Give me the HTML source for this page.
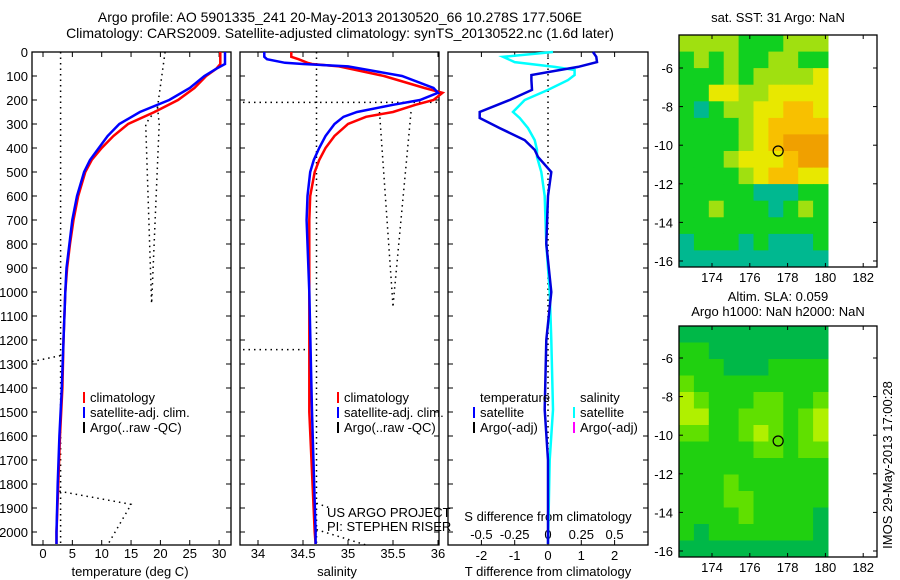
<!DOCTYPE html>
<html><head><meta charset="utf-8"><style>
body{margin:0;background:#fff;}
svg{display:block;font-family:"Liberation Sans",sans-serif;}
</style></head><body>
<svg id="fig" width="900" height="580" viewBox="0 0 900 580"></svg>
<script>
// ---- data ----
const depths = [0,20,50,70,100,150,200,250,300,350,400,450,500,600,700,800,900,1000,1200,1400,1600,1800,2000,2050];
const tempSat = [31,31,31,29.5,27.5,25,21.5,16.5,13,11,9.5,8,7,5.8,5,4.5,4,3.8,3.5,3.2,2.8,2.5,2.3,2.3];
const tempClim = [30.2,30.2,30.2,29.5,27.8,25.8,23,19,14.5,12,10,8.3,7.2,6,5.2,4.6,4.1,3.8,3.5,3.3,2.9,2.6,2.3,2.3];
const salDepths = [0,20,30,45,50,60,100,150,170,200,220,250,270,300,350,400,450,500,600,700,800,1000,1500,2000,2050];
const salSat = [34.07,34.07,34.1,34.3,34.5,35.0,35.6,35.95,36.0,35.8,35.5,35.1,34.95,34.85,34.75,34.68,34.62,34.58,34.55,34.54,34.55,34.57,34.6,34.64,34.64];
const salClim = [34.37,34.37,34.45,34.55,34.6,34.9,35.4,35.85,36.05,35.95,35.75,35.5,35.2,35.0,34.85,34.75,34.68,34.63,34.58,34.57,34.57,34.57,34.57,34.63,34.64];
const diffDepths = [0,20,42,62,75,96,117,158,200,250,275,317,367,408,437,500,600,800,1000,1200,1490,1700,2050];
const tDiff = [1.35,1.45,1.47,0.9,0.36,-0.5,-0.5,-0.48,-1.15,-2.05,-2.05,-1.45,-0.7,-0.4,-0.3,0.1,0.0,-0.05,0.1,-0.05,-0.1,0,0];
const sDiffT = [0.15,-1.35,-1.0,0.2,0.8,0.8,0.6,0.0,-0.7,-1.05,-0.85,-0.6,-0.4,-0.33,-0.33,-0.2,-0.1,-0.05,0.05,0.1,0.15,0.05,0];
const tempTicks = [0,5,10,15,20,25,30];
const salTicks = [34,34.5,35,35.5,36];
const salTickLabels = ["34","34.5","35","35.5","36"];
const diffTicks = [-2,-1,0,1,2];
const sDiffLabels = ["-0.5","-0.25","0","0.25","0.5"];
const depthTicks = [0,100,200,300,400,500,600,700,800,900,1000,1100,1200,1300,1400,1500,1600,1700,1800,1900,2000];
const lonTicks = [174,176,178,180,182];
const latTicks = [-6,-8,-10,-12,-14,-16];
// SST coarse grid (0 teal,1 green,2 yellow-green,3 yellow,4 orange-yellow,5 orange)
const sstGrid = [
[2,2,2,2,1,1,1,2,2,2],[1,2,1,2,1,1,2,2,1,1],[1,1,1,2,1,2,2,2,2,3],[1,1,3,3,2,2,3,3,3,3],
[1,0,1,2,2,3,3,4,4,3],[1,1,1,1,2,3,4,4,4,4],[1,1,1,1,2,3,4,5,5,5],[1,1,1,2,3,3,3,4,5,5],
[1,1,1,1,2,3,4,4,3,3],[1,1,1,1,1,0,0,0,1,1],[1,1,2,1,1,1,0,1,2,1],[1,1,1,1,1,1,1,1,1,1],
[0,1,1,1,0,1,0,0,0,1],[0,0,0,0,0,0,0,0,0,0]];
const slaGrid = [
[0,0,0,0,0,0,0,0,0,0],[1,1,0,0,0,0,0,0,0,0],[1,1,1,0,0,0,1,1,1,1],[2,1,1,1,1,1,1,1,1,1],
[3,2,1,1,1,2,2,1,1,2],[3,3,1,1,2,2,2,1,2,3],[2,2,1,1,2,3,2,1,2,3],[1,1,1,1,1,2,2,1,2,2],
[1,1,1,1,1,1,1,1,1,1],[1,1,1,2,1,1,1,1,1,1],[1,1,1,2,2,1,1,1,1,1],[1,1,1,1,2,1,1,1,1,0],
[1,0,1,1,1,1,1,1,1,0],[0,0,0,0,0,0,0,0,0,0]];
const argoLon = 177.5, argoLat = -10.3;

// ---- helpers ----
const NS="http://www.w3.org/2000/svg";
const svg=document.getElementById('fig');
function mk(tag,attrs,parent){const e=document.createElementNS(NS,tag);for(const k in attrs)e.setAttribute(k,attrs[k]);(parent||svg).appendChild(e);return e;}
function txt(x,y,s,anchor,size,parent){const t=mk('text',{x:x,y:y,'text-anchor':anchor||'middle','font-size':size||13,fill:'#000'},parent);t.textContent=s;return t;}
const yD=d=>52+d*0.24;
const P1={x0:32,x1:231}, P2={x0:240,x1:439}, P3={x0:448,x1:648};
const xT=v=>43+v*5.87;
const xS=v=>258+(v-34)*90;
const xDf=v=>548+v*33.3;
function line(xs,ys,xf,color,w,name){
  const pts=xs.map((v,i)=>xf(v).toFixed(1)+','+yD(ys[i]).toFixed(1)).join(' ');
  const p=mk('polyline',{points:pts,fill:'none',stroke:color,'stroke-width':w});
  
  
}
function dots(pts,name){
  const p=mk('polyline',{points:pts.map(a=>a[0].toFixed(1)+','+a[1].toFixed(1)).join(' '),fill:'none',stroke:'#000','stroke-width':1.5,'stroke-dasharray':'1.5 4'});
  
  
}
function panel(P,name){
  const r=mk('rect',{x:P.x0,y:52,width:P.x1-P.x0,height:493,fill:'none',stroke:'#000','stroke-width':1.3});
  
  
  depthTicks.forEach(d=>{mk('line',{x1:P.x0,x2:P.x0+5,y1:yD(d),y2:yD(d),stroke:'#000'});mk('line',{x1:P.x1,x2:P.x1-5,y1:yD(d),y2:yD(d),stroke:'#000'});});
}

// titles
txt(340,22,'Argo profile: AO 5901335_241 20-May-2013 20130520_66 10.278S 177.506E','middle',14);
txt(340,38,'Climatology: CARS2009. Satellite-adjusted climatology: synTS_20130522.nc (1.6d later)','middle',14);

// Panel 1 temperature
panel(P1,'temperature-panel');
depthTicks.forEach(d=>{const t=txt(28,yD(d)+5,String(d),'end',13);});
tempTicks.forEach(v=>{mk('line',{x1:xT(v),x2:xT(v),y1:545,y2:540,stroke:'#000'});mk('line',{x1:xT(v),x2:xT(v),y1:52,y2:57,stroke:'#000'});txt(xT(v),558,String(v));});
txt(130,576,'temperature (deg C)');
dots([[xT(3),52],[xT(3),545]],'argo-raw-temp-a');
dots([[xT(20.8),52],[xT(19.5),yD(230)],[xT(17.5),yD(300)],[xT(18.5),yD(1050)]],'argo-raw-temp-b');
dots([[xT(19.5),yD(230)],[xT(19.8),yD(300)],[xT(18.5),yD(1050)]],'argo-raw-temp-c');
dots([[32,yD(1290)],[xT(3),yD(1265)]],'argo-raw-temp-d');
dots([[xT(2.8),yD(1830)],[xT(15),yD(1885)],[xT(11),yD(2054)]],'argo-raw-temp-e');
line(tempClim,depths,xT,'#ff0000',2.5,'temp-climatology-line');
line(tempSat,depths,xT,'#0000ff',2.5,'temp-satellite-line');

// Panel 2 salinity
panel(P2,'salinity-panel');
salTicks.forEach((v,i)=>{mk('line',{x1:xS(v),x2:xS(v),y1:545,y2:540,stroke:'#000'});mk('line',{x1:xS(v),x2:xS(v),y1:52,y2:57,stroke:'#000'});txt(xS(v),558,salTickLabels[i]);});
txt(337,576,'salinity');
dots([[xS(34.65),52],[xS(34.65),545]],'argo-raw-sal-a');
dots([[243,yD(210)],[437,yD(210)]],'argo-raw-sal-b');
dots([[xS(35.35),yD(250)],[xS(35.5),yD(1058)]],'argo-raw-sal-c');
dots([[xS(35.7),yD(250)],[xS(35.5),yD(1058)]],'argo-raw-sal-d');
dots([[243,yD(1240)],[xS(34.6),yD(1240)]],'argo-raw-sal-e');
dots([[xS(34.65),yD(1880)],[xS(34.8),yD(1900)]],'argo-raw-sal-f');
dots([[xS(34.65),yD(1990)],[xS(35.2),yD(2054)]],'argo-raw-sal-g');
line(salClim,salDepths,xS,'#ff0000',2.5,'sal-climatology-line');
line(salSat,salDepths,xS,'#0000ff',2.5,'sal-satellite-line');
txt(327,517,'US ARGO PROJECT','start',13);
txt(327,531,'PI: STEPHEN RISER','start',13);

// Legends p1/p2
function legend(x,y0,items,name){
  const g=mk('g',{});
  items.forEach((it,i)=>{const y=y0+i*15;if(it[1])mk('rect',{x:x,y:y-10,width:2,height:11,fill:it[1]},g);txt(x+7,y,it[0],'start',13,g);});
}
legend(83,402,[['climatology','#ff0000'],['satellite-adj. clim.','#0000ff'],['Argo(..raw -QC)','#000']],'legend-temperature');
legend(337,402,[['climatology','#ff0000'],['satellite-adj. clim.','#0000ff'],['Argo(..raw -QC)','#000']],'legend-salinity');

// Panel 3 differences
panel(P3,'difference-panel');
diffTicks.forEach(v=>{mk('line',{x1:xDf(v),x2:xDf(v),y1:545,y2:540,stroke:'#000'});mk('line',{x1:xDf(v),x2:xDf(v),y1:52,y2:57,stroke:'#000'});txt(xDf(v),560,String(v));});
sDiffLabels.forEach((s,i)=>txt(xDf(diffTicks[i]),539,s));
txt(548,521,'S difference from climatology');
txt(548,576,'T difference from climatology');
dots([[xDf(0),52],[xDf(0),545]],'zero-line');
line(sDiffT,diffDepths,xDf,'#00ffff',2.5,'sdiff-satellite-line');
line(tDiff,diffDepths,xDf,'#0000dd',2.5,'tdiff-satellite-line');
legend(473,402,[['temperature',null],['satellite','#0000ff'],['Argo(-adj)','#000']],'legend-tdiff');
legend(573,402,[['salinity',null],['satellite','#00ffff'],['Argo(-adj)','#ff00ff']],'legend-sdiff');

// Maps
const sstCol=['#00b890','#10d020','#a0e010','#e8e800','#f8c000','#f0a000'];
const slaCol=['#00b848','#20d010','#60e000','#b0f000'];
function map(top,bottom,grid,cols,name,lat6){
  const g=mk('g',{});
  const x0=679,x1=877,dx0=679,dx1=828;
  const yL=lat=>lat6+(-6-lat)*19.3;
  const xL=lon=>712+(lon-174)*18.9;
  const nr=grid.length,nc=grid[0].length,cw=(dx1-dx0)/nc,ch=(bottom-top)/nr;
  grid.forEach((row,r)=>row.forEach((v,c)=>{const cell=mk('rect',{x:(dx0+c*cw).toFixed(1),y:(top+r*ch).toFixed(1),width:(cw+0.5).toFixed(1),height:(ch+0.5).toFixed(1),fill:cols[v]},g);
    
    }));
  mk('rect',{x:x0,y:top,width:x1-x0,height:bottom-top,fill:'none',stroke:'#000','stroke-width':1.3},g);
  lonTicks.forEach(l=>{mk('line',{x1:xL(l),x2:xL(l),y1:bottom,y2:bottom-4,stroke:'#000'},g);mk('line',{x1:xL(l),x2:xL(l),y1:top,y2:top+4,stroke:'#000'},g);txt(xL(l),bottom+15,String(l),'middle',13,g);});
  latTicks.forEach(l=>{mk('line',{x1:x0,x2:x0+4,y1:yL(l),y2:yL(l),stroke:'#000'},g);mk('line',{x1:x1,x2:x1-4,y1:yL(l),y2:yL(l),stroke:'#000'},g);txt(x0-6,yL(l)+5,String(l),'end',13,g);});
  const c=mk('circle',{cx:xL(argoLon),cy:yL(argoLat),r:5,fill:'none',stroke:'#000','stroke-width':1.2},g);
  
  
}
txt(778,22,'sat. SST: 31 Argo: NaN');
map(35,267,sstGrid,sstCol,'sst-map',68);
txt(778,301,'Altim. SLA: 0.059');
txt(778,316,'Argo h1000: NaN h2000: NaN');
map(326,557,slaGrid,slaCol,'sla-map',358);
const side=txt(0,0,'IMOS 29-May-2013 17:00:28','middle',13);
side.setAttribute('transform','translate(892,465) rotate(-90)');

</script>
</body></html>
